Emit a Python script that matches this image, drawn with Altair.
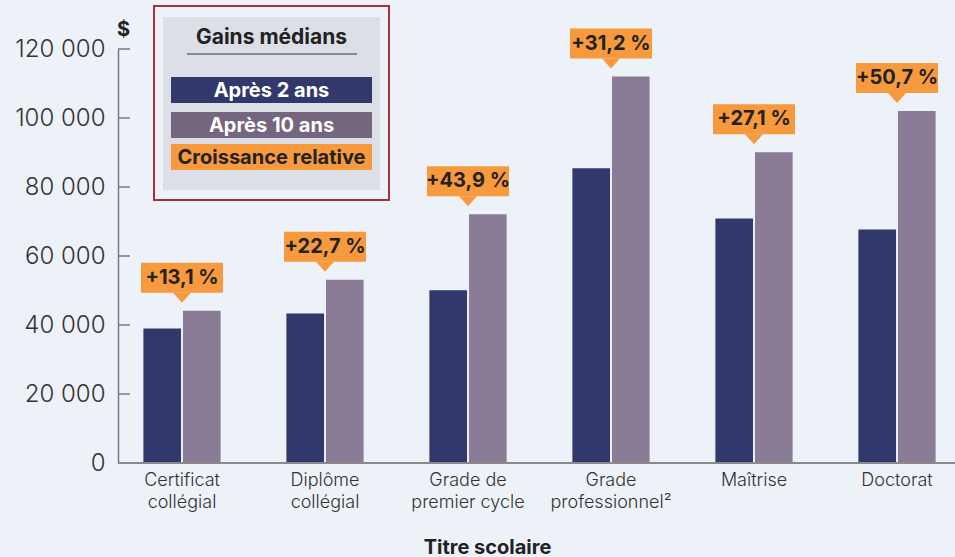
import altair as alt
import pandas as pd

# ---------------- data ----------------
categories = ["Certificat\ncollégial", "Diplôme\ncollégial", "Grade de\npremier cycle",
              "Grade\nprofessionnel²", "Maîtrise", "Doctorat"]
after_2 = [39000, 43300, 50100, 85400, 70900, 67700]
after_10 = [44100, 53100, 72100, 112000, 90100, 102000]
growth = ["+13,1\u00a0%", "+22,7\u00a0%", "+43,9\u00a0%", "+31,2\u00a0%", "+27,1\u00a0%", "+50,7\u00a0%"]
series = ["Après 2 ans", "Après 10 ans"]
y_ticks = [0, 20000, 40000, 60000, 80000, 100000, 120000]
legend_title = "Gains médians"
legend_items = ["Après 2 ans", "Après 10 ans", "Croissance relative"]

# ---------------- styling ----------------
BG = "#EDF1F8"
DARK = "#32386B"
LIGHT = "#8A7B96"
LEG_LIGHT = "#74667F"
ORANGE = "#F7993D"
TXT = "#222222"
AXIS = "#7A7A7A"
FONT = "Inter"
W, H = 837, 414

rows = []
for c, a, b in zip(categories, after_2, after_10):
    rows.append({"cat": c, "series": series[0], "value": a})
    rows.append({"cat": c, "series": series[1], "value": b})
df_bars = pd.DataFrame(rows)
df_ann = pd.DataFrame({"cat": categories, "top": after_10, "label": growth})
df_ticks = pd.DataFrame({"v": y_ticks})

x_scale = alt.Scale(domain=categories, range=[-7.5, 850.5], paddingInner=0.46, paddingOuter=0.23)
y_scale = alt.Scale(domain=[0, 120000], nice=False)

bars = alt.Chart(df_bars).mark_bar().encode(
    x=alt.X("cat:N", sort=categories, scale=x_scale,
            axis=alt.Axis(domain=False, ticks=False, labelPadding=8,
                          labelExpr="split(datum.label, '\\n')", labelFont=FONT,
                          labelFontSize=18, labelLineHeight=22, labelFontWeight=300,
                          labelColor="#333333", labelAngle=0,
                          title="Titre scolaire", titleFont=FONT, titleFontSize=20,
                          titleFontWeight="bold", titleColor=TXT, titleX=369, titleY=90,
                          titleAlign="center", titleBaseline="alphabetic")),
    xOffset=alt.XOffset("series:N", sort=series,
                        scale=alt.Scale(domain=series, paddingInner=0.05, paddingOuter=0)),
    y=alt.Y("value:Q", scale=y_scale,
            axis=alt.Axis(values=y_ticks, grid=False, domain=True, domainColor=AXIS,
                          domainWidth=1.5, ticks=False, labelPadding=13,
                          labelExpr="datum.value == 0 ? '0' : floor(datum.value / 1000) + ' 000'",
                          labelFont=FONT, labelFontSize=24, labelFontWeight=300,
                          labelColor="#333333",
                          title="$", titleAngle=0, titleX=5, titleY=-14, titleAlign="center",
                          titleBaseline="alphabetic", titleFont=FONT, titleFontSize=20,
                          titleFontWeight="bold", titleColor=TXT)),
    color=alt.Color("series:N", scale=alt.Scale(domain=series, range=[DARK, LIGHT]), legend=None),
)

tick_rules = alt.Chart(df_ticks).mark_rule(color=AXIS, strokeWidth=1.5).encode(
    y=alt.Y("v:Q", scale=y_scale),
    x=alt.value(0), x2=alt.value(12),
)

x_line = alt.Chart(pd.DataFrame({"k": [0]})).mark_rule(color="#8A8A8A", strokeWidth=2).encode(
    x=alt.value(0), x2=alt.value(W), y=alt.value(H)
)

box = alt.Chart(df_ann).mark_point(
    shape="M-41,-48H41V-18H-41Z", size=4, filled=True, color=ORANGE, opacity=1, strokeWidth=0
).encode(x=alt.X("cat:N", sort=categories, scale=x_scale),
         y=alt.Y("top:Q", scale=y_scale))

tri = alt.Chart(df_ann).mark_point(
    shape="M-9,-18H9L0,-8Z", size=4, filled=True, color=ORANGE, opacity=1, strokeWidth=0
).encode(x=alt.X("cat:N", sort=categories, scale=x_scale),
         y=alt.Y("top:Q", scale=y_scale))

ann_text = alt.Chart(df_ann).mark_text(
    font=FONT, fontSize=20, fontWeight="bold", color=TXT, dy=-33, baseline="middle", align="center"
).encode(x=alt.X("cat:N", sort=categories, scale=x_scale),
         y=alt.Y("top:Q", scale=y_scale), text="label:N")

# ---------------- legend (custom box) ----------------
one = pd.DataFrame({"k": [0]})
leg_layers = [
    alt.Chart(one).mark_rect(fill=BG, stroke="#A5313C", strokeWidth=2).encode(
        x=alt.value(36), x2=alt.value(271), y=alt.value(-43), y2=alt.value(151)),
    alt.Chart(one).mark_rect(fill="#DCDFE6").encode(
        x=alt.value(45), x2=alt.value(262), y=alt.value(-32), y2=alt.value(141)),
    alt.Chart(pd.DataFrame({"t": [legend_title]})).mark_text(
        font=FONT, fontSize=21, fontWeight="bold", color=TXT, align="center", baseline="alphabetic"
    ).encode(x=alt.value(153.5), y=alt.value(-5), text="t:N"),
    alt.Chart(one).mark_rule(color="#6E6E6E", strokeWidth=1.5).encode(
        x=alt.value(69), x2=alt.value(239), y=alt.value(5)),
]
leg_fills = [DARK, LEG_LIGHT, ORANGE]
leg_txt = ["#FFFFFF", "#FFFFFF", TXT]
leg_y = [28, 63, 95]
for lab, f, tc, y0 in zip(legend_items, leg_fills, leg_txt, leg_y):
    leg_layers.append(alt.Chart(one).mark_rect(fill=f).encode(
        x=alt.value(53), x2=alt.value(254), y=alt.value(y0), y2=alt.value(y0 + 26)))
    leg_layers.append(alt.Chart(pd.DataFrame({"t": [lab]})).mark_text(
        font=FONT, fontSize=20, fontWeight="bold", color=tc, align="center", baseline="middle"
    ).encode(x=alt.value(153.5), y=alt.value(y0 + 13.5), text="t:N"))

chart = alt.layer(bars, tick_rules, x_line, box, tri, ann_text, *leg_layers).properties(
    width=W, height=H,
    autosize=alt.AutoSizeParams(type="none"),
    padding={"left": 118, "top": 49, "right": 0, "bottom": 94},
    background=BG,
).configure_view(stroke=None)

chart.save("out.html", embed_options={"renderer": "svg", "actions": False})
